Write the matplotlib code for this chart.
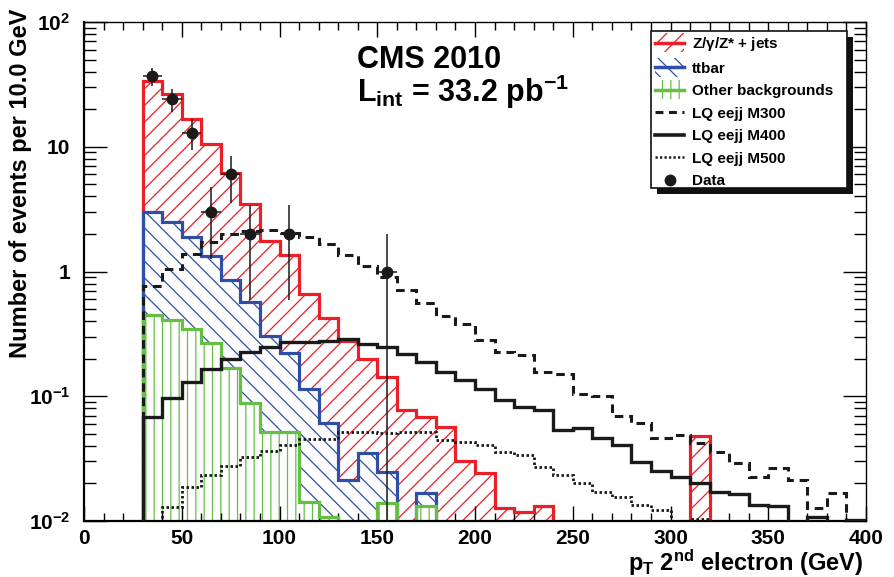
import numpy as np
import matplotlib
matplotlib.use("Agg")
import matplotlib.pyplot as plt
from matplotlib.patches import Patch, Rectangle
from matplotlib.lines import Line2D
from matplotlib.legend_handler import HandlerBase
from matplotlib.ticker import MultipleLocator, FixedLocator, LogLocator, NullFormatter

plt.rcParams['font.family'] = ['Liberation Sans', 'DejaVu Sans']
plt.rcParams['font.weight'] = 'bold'
plt.rcParams['mathtext.fontset'] = 'custom'
plt.rcParams['mathtext.rm'] = 'Liberation Sans:bold'
plt.rcParams['mathtext.bf'] = 'Liberation Sans:bold'
plt.rcParams['mathtext.it'] = 'Liberation Sans:bold'
plt.rcParams['mathtext.default'] = 'rm'
plt.rcParams['hatch.linewidth'] = 0.9

# ---- binning: 10 GeV bins from 0 to 400, samples start at 30 GeV ----
bin_edges = np.arange(0, 410, 10)
first_bin = 30

# per-process background yields, bins 30-40 ... 390-400
z_jets = [30.9, 24.0, 14.8, 9.2, 5.35, 2.93, 1.44, 1.14, 0.54, 0.36,
          0.257, 0.165, 0.117, 0.078, 0.051, 0.057, 0.030, 0.0243, 0.0127, 0.0118,
          0.0132, 0, 0, 0, 0, 0, 0, 0, 0.048, 0,
          0, 0, 0, 0, 0, 0, 0]
ttbar = [2.53, 2.10, 1.56, 1.06, 0.69, 0.48, 0.25, 0.17, 0.10, 0.050,
         0.0213, 0.0349, 0.0109, 0, 0.0035, 0, 0, 0, 0, 0,
         0, 0, 0, 0, 0, 0, 0, 0, 0, 0,
         0, 0, 0, 0, 0, 0, 0]
other_bkg = [0.448, 0.408, 0.344, 0.266, 0.167, 0.0888, 0.052, 0.052, 0.0143, 0.0108,
             0, 0, 0.0139, 0, 0.0132, 0, 0, 0, 0, 0,
             0, 0, 0, 0, 0, 0, 0, 0, 0, 0,
             0, 0, 0, 0, 0, 0, 0]

# leptoquark signal samples
lq_m300 = [0.77, 1.05, 1.38, 1.72, 2.0, 2.11, 2.15, 2.03, 1.89, 1.66,
           1.36, 1.11, 0.90, 0.71, 0.56, 0.44, 0.38, 0.28, 0.228, 0.214,
           0.157, 0.151, 0.104, 0.100, 0.069, 0.061, 0.046, 0.049, 0.042, 0.036,
           0.029, 0.0226, 0.0264, 0.0215, 0.0126, 0.0169, 0]
lq_m400 = [0.0686, 0.0964, 0.130, 0.166, 0.200, 0.228, 0.248, 0.272, 0.274, 0.278,
           0.288, 0.264, 0.249, 0.218, 0.188, 0.157, 0.135, 0.114, 0.0934, 0.0826,
           0.0771, 0.0537, 0.0554, 0.046, 0.0407, 0.0299, 0.0252, 0.0226, 0.0202, 0.0171,
           0.0166, 0.0135, 0.0132, 0, 0.0108, 0, 0.0102]
lq_m500 = [0, 0.0129, 0.0188, 0.0234, 0.0274, 0.0327, 0.0367, 0.0407, 0.0453, 0.0453,
           0.052, 0.052, 0.0505, 0.052, 0.052, 0.0446, 0.0426, 0.0407, 0.0356, 0.0338,
           0.0271, 0.0233, 0.020, 0.0171, 0.0156, 0.0135, 0.0122, 0, 0.0104, 0,
           0, 0, 0, 0, 0, 0, 0]

# observed events
data_pt = [35, 45, 55, 65, 75, 85, 105, 155]
data_n = [37, 24, 13, 3, 6, 2, 2, 1]

RED = '#ea1f27'
BLUE = '#2f4ea6'
GREEN = '#66bf45'
INK = '#1a1a1a'
FLOOR = 1e-6


def full(vals):
    out = np.zeros(len(bin_edges) - 1)
    i0 = first_bin // 10
    out[i0:i0 + len(vals)] = vals
    return out


def floor(a):
    return np.where(a > 0, a, FLOOR)


other_top = full(other_bkg)
tt_top = other_top + full(ttbar)
z_top = tt_top + full(z_jets)

fig = plt.figure(figsize=(8.94, 5.77), dpi=100)
ax = fig.add_axes([84 / 894, 1 - 521 / 577, (866 - 84) / 894, (521 - 22) / 577])
ax.set_yscale('log')
ax.set_xlim(0, 400)
ax.set_ylim(1e-2, 1e2)

# hatched stack fills
ax.stairs(floor(z_top), bin_edges, baseline=floor(tt_top), fill=True, facecolor='none',
          edgecolor=RED, hatch='//', linewidth=0, zorder=1)
ax.stairs(floor(tt_top), bin_edges, baseline=floor(other_top), fill=True, facecolor='none',
          edgecolor=BLUE, hatch='\\\\', linewidth=0, zorder=1)
ax.stairs(floor(other_top), bin_edges, baseline=FLOOR, fill=True, facecolor='none',
          edgecolor=GREEN, hatch='||', linewidth=0, zorder=1)

# stack outlines
for top, col in [(z_top, RED), (tt_top, BLUE), (other_top, GREEN)]:
    ax.stairs(floor(top), bin_edges, baseline=FLOOR, fill=False, color=col,
              linewidth=2.3, zorder=2)

# signal histograms
ax.stairs(floor(full(lq_m300)), bin_edges, baseline=FLOOR, color=INK, linewidth=2.2,
          linestyle=(0, (2.8, 1.9)), zorder=3)
ax.stairs(floor(full(lq_m400)), bin_edges, baseline=FLOOR, color=INK, linewidth=2.4,
          zorder=3)
ax.stairs(floor(full(lq_m500)), bin_edges, baseline=FLOOR, color=INK, linewidth=2.0,
          linestyle=(0, (0.9, 0.9)), zorder=3)

# data with Poisson errors
n = np.array(data_n, dtype=float)
err = np.sqrt(n)
err_lo = np.minimum(err, n - 1e-4)
ax.errorbar(data_pt, n, yerr=[err_lo, err], xerr=5, fmt='o', color=INK,
            markersize=7.5, elinewidth=1.1, capsize=0, zorder=5)

# axes styling
for side in ['left', 'bottom']:
    ax.spines[side].set_linewidth(1.6)
for side in ['top', 'right']:
    ax.spines[side].set_linewidth(1.0)
ax.xaxis.set_major_locator(MultipleLocator(50))
ax.xaxis.set_minor_locator(MultipleLocator(10))
ax.yaxis.set_major_locator(FixedLocator([1e-2, 1e-1, 1, 10, 100]))
ax.yaxis.set_minor_locator(LogLocator(base=10, subs=np.arange(2, 10)))
ax.yaxis.set_minor_formatter(NullFormatter())
ax.set_yticklabels(['$10^{-2}$', '$10^{-1}$', '1', '10', '$10^{2}$'])
ax.tick_params(axis='both', which='both', direction='in', top=True, right=True,
               width=1.0, labelsize=15)
ax.tick_params(axis='x', which='major', length=11, pad=6)
ax.tick_params(axis='x', which='minor', length=5.5)
ax.tick_params(axis='y', which='major', length=16.5, pad=10)
ax.tick_params(axis='y', which='minor', length=8.5)
for lab in ax.get_xticklabels() + ax.get_yticklabels():
    lab.set_fontweight('bold')

fig.text(21 / 894, 1 - 9 / 577, 'Number of events per 10.0 GeV', rotation=90,
         ha='center', va='top', fontsize=17, fontweight='bold')
fig.text(863 / 894, 1 - 571 / 577, 'p$_{T}$ 2$^{nd}$ electron (GeV)', ha='right',
         va='baseline', fontsize=17, fontweight='bold')

fig.text(357 / 894, 1 - 68 / 577, 'CMS 2010', fontsize=22, fontweight='bold',
         ha='left', va='baseline')
fig.text(357 / 894, 1 - 102 / 577, 'L$_{int}$ = 33.2 pb$^{-1}$', fontsize=22,
         fontweight='bold', ha='left', va='baseline')


# legend entry: thick coloured line over a hatched swatch
class HatchLineHandler(HandlerBase):
    def create_artists(self, legend, orig_handle, xdescent, ydescent, width, height,
                       fontsize, trans):
        col = orig_handle.get_edgecolor()
        rect = Rectangle((-xdescent, -ydescent - 3), width, height + 6, facecolor='none',
                         edgecolor=col, hatch=orig_handle.get_hatch(), linewidth=0,
                         transform=trans)
        line = Line2D([-xdescent, -xdescent + width], [-ydescent + height / 2] * 2,
                      color=col, linewidth=2.5, transform=trans)
        return [rect, line]


handles = [
    Patch(edgecolor=RED, facecolor='none', hatch='//'),
    Patch(edgecolor=BLUE, facecolor='none', hatch='\\\\'),
    Patch(edgecolor=GREEN, facecolor='none', hatch='||'),
    Line2D([], [], color=INK, lw=2.2, linestyle=(0, (2.6, 1.8))),
    Line2D([], [], color=INK, lw=2.6),
    Line2D([], [], color=INK, lw=1.8, linestyle=(0, (0.9, 0.9))),
    Line2D([], [], color=INK, lw=0, marker='o', markersize=7.5),
]
labels = ['Z/$\\gamma$/Z* + jets', 'ttbar', 'Other backgrounds', 'LQ eejj M300',
          'LQ eejj M400', 'LQ eejj M500', 'Data']

# legend frame with solid drop shadow
bx0, by0, bx1, by1 = 651, 31, 847, 188
fig.patches.append(Rectangle(((bx0 + 6) / 894, 1 - (by1 + 6) / 577), (bx1 - bx0) / 894,
                             (by1 - by0) / 577, transform=fig.transFigure,
                             facecolor='#111111', edgecolor='none', zorder=8))
fig.patches.append(Rectangle((bx0 / 894, 1 - by1 / 577), (bx1 - bx0) / 894,
                             (by1 - by0) / 577, transform=fig.transFigure,
                             facecolor='white', edgecolor='#111111', linewidth=1.2,
                             zorder=9))
leg = fig.legend(handles, labels, loc='upper left',
                 bbox_to_anchor=((bx0 + 1) / 894, 1 - (by0 + 1) / 577),
                 frameon=False, fontsize=11, handlelength=1.9, handletextpad=0.5,
                 labelspacing=0.56, borderaxespad=0, borderpad=0.2,
                 handler_map={Patch: HatchLineHandler()})
leg.set_zorder(10)
for t in leg.get_texts():
    t.set_fontweight('bold')

fig.savefig('out.png', dpi=100)
